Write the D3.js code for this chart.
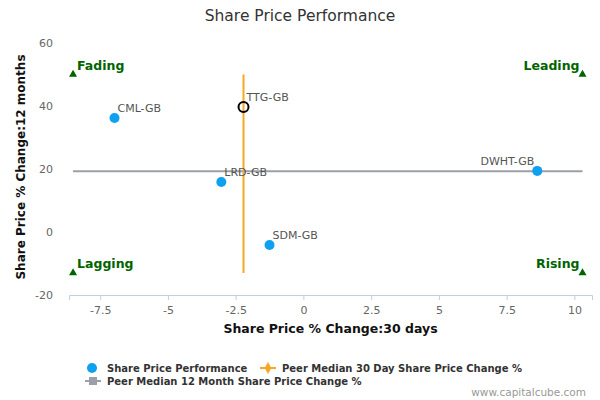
<!DOCTYPE html>
<html>
<head>
<meta charset="utf-8">
<script src="https://cdn.jsdelivr.net/npm/d3@7"></script>
<style>
  body { margin: 0; background: #fff; }
  svg { font-family: "DejaVu Sans", sans-serif; }
</style>
</head>
<body>
<svg id="chart"></svg>
<script>
// companies: 30 day change vs 12 month change
const tickers = ["CML-GB", "LRD-GB", "SDM-GB", "DWHT-GB"];
const change30d = [-6.97, -3.03, -1.25, 8.63];
const change12m = [36.2, 15.9, -4.1, 19.4];

// the subject company (open marker)
const subjectTicker = "TTG-GB";
const subject30d = -2.21;
const subject12m = 39.7;

// peer medians
const median30d = -2.21;
const median12m = 19.3;
const median30dSpan = [-13, 50];
const median12mSpan = [-8.5, 10.3];

const xTicks = [-7.5, -5, -2.5, 0, 2.5, 5, 7.5, 10];
const yTicks = [-20, 0, 20, 40, 60];

const quadrants = [
    { name: "Fading", x: -8.5, y: 50, side: "right" },
    { name: "Leading", x: 10.3, y: 50, side: "left" },
    { name: "Lagging", x: -8.5, y: -13, side: "right" },
    { name: "Rising", x: 10.3, y: -13, side: "left" }
];

// plain hyphen for negatives, like the original
const fmt = d => String(d);

function chart(width, height) {
    const margin = { top: 43, right: 8, bottom: 105, left: 69 };
    const w = width - margin.left - margin.right;
    const h = height - margin.top - margin.bottom;

    const root = d3.select("#chart")
        .attr("width", width)
        .attr("height", height);

    root.append("text")
        .attr("x", width / 2)
        .attr("y", 21)
        .attr("text-anchor", "middle")
        .style("font-size", "15.5px")
        .style("fill", "#333")
        .text("Share Price Performance");

    const svg = root.append("g")
        .attr("transform", "translate(" + margin.left + "," + margin.top + ")");

    const xScale = d3.scaleLinear().domain([-8.65, 10.65]).range([0, w]);
    const yScale = d3.scaleLinear().domain([-20, 60]).range([h, 0]);

    const xAxis = d3.axisBottom(xScale)
        .tickValues(xTicks)
        .tickSize(5)
        .tickPadding(6)
        .tickFormat(fmt);

    const yAxis = d3.axisLeft(yScale)
        .tickValues(yTicks)
        .tickSize(0)
        .tickPadding(16)
        .tickFormat(fmt);

    const gx = svg.append("g")
        .attr("transform", `translate(0,${h})`)
        .call(xAxis);
    gx.select(".domain").attr("stroke", "#C0D0E0");
    gx.selectAll(".tick line").attr("stroke", "#C0D0E0");
    gx.selectAll(".tick text")
        .style("font-size", "11px")
        .style("fill", "#666")
        .style("font-family", "DejaVu Sans");

    const gy = svg.append("g").call(yAxis);
    gy.select(".domain").remove();
    gy.selectAll(".tick text")
        .attr("dy", "0.32em")
        .style("font-size", "11px")
        .style("fill", "#666")
        .style("font-family", "DejaVu Sans");

    // axis titles
    svg.append("text")
        .attr("x", w / 2)
        .attr("y", h + 38)
        .attr("text-anchor", "middle")
        .style("font-size", "12.5px")
        .style("font-weight", "bold")
        .style("fill", "#111")
        .text("Share Price % Change:30 days");

    svg.append("text")
        .attr("transform", `translate(${-44},${h / 2 - 2}) rotate(-90)`)
        .attr("text-anchor", "middle")
        .style("font-size", "12px")
        .style("font-weight", "bold")
        .style("fill", "#111")
        .text("Share Price % Change:12 months");

    // peer median lines
    svg.append("line")
        .attr("x1", xScale(median12mSpan[0]))
        .attr("x2", xScale(median12mSpan[1]))
        .attr("y1", yScale(median12m))
        .attr("y2", yScale(median12m))
        .attr("stroke", "#9a9fa8")
        .attr("stroke-width", 2);

    svg.append("line")
        .attr("x1", xScale(median30d))
        .attr("x2", xScale(median30d))
        .attr("y1", yScale(median30dSpan[0]))
        .attr("y2", yScale(median30dSpan[1]))
        .attr("stroke", "#f7a823")
        .attr("stroke-width", 2);

    // quadrant markers
    const tri = d3.symbol().type(d3.symbolTriangle).size(28);
    svg.selectAll(".quad").data(quadrants)
        .enter()
        .append("path")
        .attr("d", tri)
        .attr("transform", d => `translate(${xScale(d.x)},${yScale(d.y)})`)
        .attr("fill", "#006400");

    svg.selectAll(".quadLabel").data(quadrants)
        .enter()
        .append("text")
        .attr("x", d => xScale(d.x) + (d.side === "right" ? 4 : -3))
        .attr("y", d => yScale(d.y) - 5)
        .attr("text-anchor", d => d.side === "right" ? "start" : "end")
        .style("font-size", "12.5px")
        .style("font-weight", "bold")
        .style("fill", "#006400")
        .text(d => d.name);

    // peers
    const peers = tickers.map((t, i) => ({ name: t, x: change30d[i], y: change12m[i] }));

    svg.selectAll(".pt").data(peers)
        .enter()
        .append("circle")
        .attr("cx", d => xScale(d.x))
        .attr("cy", d => yScale(d.y))
        .attr("r", 5)
        .attr("fill", "#0fa0ef");

    svg.selectAll(".ptLabel").data(peers)
        .enter()
        .append("text")
        .attr("x", d => xScale(d.x) + (d.name === "DWHT-GB" ? -3 : 3))
        .attr("y", d => yScale(d.y) - 6)
        .attr("text-anchor", d => d.name === "DWHT-GB" ? "end" : "start")
        .style("font-size", "11px")
        .style("fill", "#555")
        .text(d => d.name);

    // subject company
    svg.append("circle")
        .attr("cx", xScale(subject30d))
        .attr("cy", yScale(subject12m))
        .attr("r", 5)
        .attr("fill", "none")
        .attr("stroke", "#000")
        .attr("stroke-width", 2);

    svg.append("text")
        .attr("x", xScale(subject30d) + 3)
        .attr("y", yScale(subject12m) - 6)
        .style("font-size", "11px")
        .style("fill", "#555")
        .text(subjectTicker);

    // legend
    const legend = root.append("g").style("font-size", "10px").style("font-weight", "bold").style("fill", "#333");

    legend.append("circle").attr("cx", 92).attr("cy", 368).attr("r", 5).attr("fill", "#0fa0ef");
    legend.append("text").attr("x", 107).attr("y", 372).text("Share Price Performance");

    legend.append("line").attr("x1", 260).attr("x2", 276).attr("y1", 368).attr("y2", 368)
        .attr("stroke", "#f7a823").attr("stroke-width", 2);
    legend.append("path").attr("d", d3.symbol().type(d3.symbolDiamond).size(40))
        .attr("transform", "translate(268,368)").attr("fill", "#f7a823");
    legend.append("text").attr("x", 282).attr("y", 372).text("Peer Median 30 Day Share Price Change %");

    legend.append("line").attr("x1", 85).attr("x2", 101).attr("y1", 381).attr("y2", 381)
        .attr("stroke", "#9a9fa8").attr("stroke-width", 2);
    legend.append("rect").attr("x", 89).attr("y", 377).attr("width", 8).attr("height", 8)
        .attr("fill", "#9a9fa8");
    legend.append("text").attr("x", 107).attr("y", 385).text("Peer Median 12 Month Share Price Change %");

    root.append("text")
        .attr("x", 586)
        .attr("y", 396)
        .attr("text-anchor", "end")
        .style("font-size", "10.5px")
        .style("fill", "#999")
        .text("www.capitalcube.com");
}

chart(600, 400);
</script>
</body>
</html>
